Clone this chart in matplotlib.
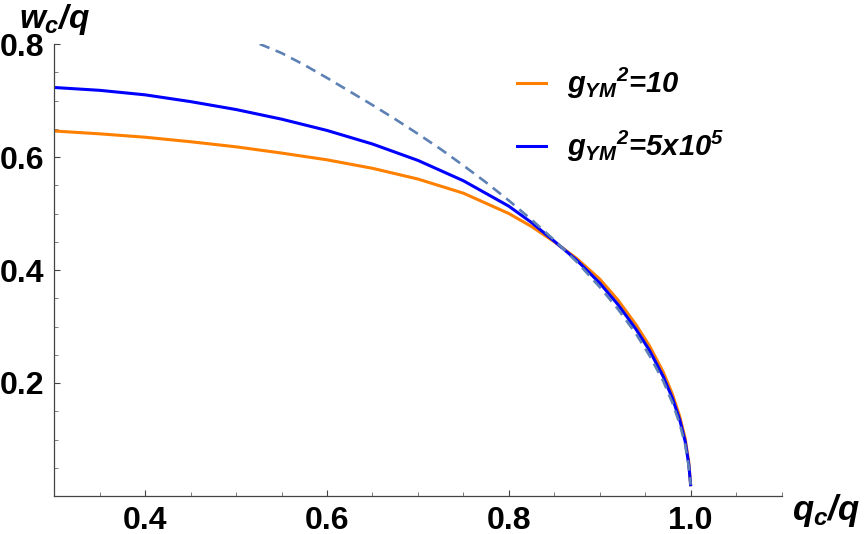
import matplotlib.pyplot as plt
from matplotlib.ticker import MultipleLocator

plt.rcParams['mathtext.fontset'] = 'custom'
plt.rcParams['mathtext.rm'] = 'Liberation Sans:bold:italic'
plt.rcParams['mathtext.it'] = 'Liberation Sans:bold:italic'
plt.rcParams['mathtext.bf'] = 'Liberation Sans:bold:italic'

# values
x_orange = [0.30, 0.35, 0.40, 0.45, 0.50, 0.55, 0.60, 0.65, 0.70, 0.75, 0.80, 0.825,
            0.85, 0.875, 0.90, 0.92, 0.94, 0.955, 0.97, 0.98, 0.988, 0.994, 0.998, 1.0]
y_orange = [0.646, 0.641, 0.635, 0.627, 0.618, 0.607, 0.595, 0.580, 0.561, 0.536, 0.500, 0.477,
            0.450, 0.420, 0.384, 0.347, 0.303, 0.265, 0.219, 0.180, 0.141, 0.102, 0.060, 0.020]

x_blue = [0.30, 0.35, 0.40, 0.45, 0.50, 0.55, 0.60, 0.65, 0.70, 0.75, 0.80, 0.825,
          0.85, 0.875, 0.90, 0.92, 0.94, 0.955, 0.97, 0.98, 0.988, 0.994, 0.998, 1.0]
y_blue = [0.723, 0.718, 0.710, 0.698, 0.684, 0.667, 0.647, 0.623, 0.594, 0.558, 0.513, 0.484,
          0.451, 0.417, 0.377, 0.339, 0.295, 0.257, 0.211, 0.173, 0.135, 0.097, 0.056, 0.020]

x_dash = [0.526, 0.55, 0.575, 0.60, 0.625, 0.65, 0.675, 0.70, 0.725, 0.75, 0.775, 0.80,
          0.825, 0.85, 0.875, 0.90, 0.92, 0.94, 0.955, 0.97, 0.98, 0.988, 0.994, 0.998, 1.0]
y_dash = [0.800, 0.784, 0.763, 0.740, 0.716, 0.692, 0.667, 0.641, 0.614, 0.585, 0.555, 0.523,
          0.489, 0.453, 0.414, 0.370, 0.331, 0.287, 0.248, 0.203, 0.165, 0.128, 0.091, 0.052, 0.020]

labels = [r'$g_{YM}{}^{2}$=10', r'$g_{YM}{}^{2}$=5x10$^{5}$']

fig = plt.figure(figsize=(8.65, 5.34), dpi=100)
ax = fig.add_axes([54.3 / 865, 38 / 534, 727.2 / 865, 452 / 534])

ax.plot(x_orange, y_orange, color='#FF8000', linewidth=2.2, label=labels[0])
ax.plot(x_blue, y_blue, color='#0000FF', linewidth=2.2, label=labels[1])
ax.plot(x_dash, y_dash, color='#5E81B5', linewidth=1.9, dashes=(4, 2.5))

ax.set_xlim(0.3, 1.1)
ax.set_ylim(0.0, 0.8)
ax.set_xticks([0.4, 0.6, 0.8, 1.0])
ax.set_yticks([0.2, 0.4, 0.6, 0.8])
ax.xaxis.set_minor_locator(MultipleLocator(0.05))
ax.yaxis.set_minor_locator(MultipleLocator(0.05))
ax.tick_params(which='major', direction='in', length=4, width=0.8, color='#444444',
               labelsize=23)
ax.tick_params(axis='x', which='major', pad=7)
ax.tick_params(axis='y', which='major', pad=7)
ax.tick_params(which='minor', direction='in', length=2.8, width=0.6, color='#666666')
for lab in ax.get_xticklabels() + ax.get_yticklabels():
    lab.set_fontfamily('Liberation Sans')
    lab.set_fontweight('bold')

for side in ['top', 'right']:
    ax.spines[side].set_visible(False)
for side in ['left', 'bottom']:
    ax.spines[side].set_color('#444444')
    ax.spines[side].set_linewidth(0.9)

fig.text(19 / 865, 1 - 28 / 534, r'$w_c/q$', fontsize=24)
fig.text(792 / 865, 1 - 520 / 534, r'$q_c/q$', fontsize=25)

ax.legend(loc='upper left', bbox_to_anchor=(491 / 865, 1 - 40 / 534),
          bbox_transform=fig.transFigure, frameon=False,
          prop={'family': 'Liberation Sans', 'weight': 'bold', 'style': 'italic', 'size': 21},
          handlelength=1.0, handletextpad=0.7, labelspacing=0.95)

plt.savefig('out.png', dpi=100)
